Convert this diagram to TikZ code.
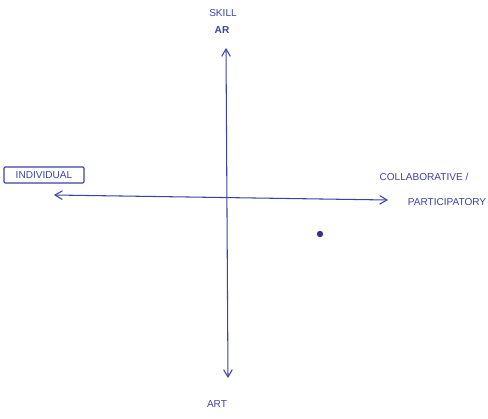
\documentclass[tikz,border=0pt]{standalone}
\usepackage{fontspec}
\setsansfont{Liberation Sans}
\usetikzlibrary{arrows.meta,positioning}
\definecolor{inkblue}{HTML}{3D42A3}
\tikzset{
  axis/.style={draw=inkblue,line width=0.9pt,
    {Straight Barb[length=2.2mm,width=2.6mm]}-{Straight Barb[length=2.2mm,width=2.6mm]}},
  tag/.style={text=inkblue,font=\sffamily\fontsize{8.6}{9}\selectfont,inner sep=1pt},
  boxtag/.style={tag,draw=inkblue,line width=0.9pt,rounded corners=1pt,
    minimum width=24mm,minimum height=4.8mm}
}

\begin{document}
\begin{tikzpicture}[x=0.3mm,y=-0.3mm]
  \useasboundingbox (0,0) rectangle (488,419);
  % axis ends
  \coordinate (top) at (226,48);
  \coordinate (bottom) at (228,378);
  \coordinate (left) at (54,195);
  \coordinate (right) at (388,200);
  \draw[axis] (bottom) -- (top);
  \draw[axis] (left) -- (right);
  % vertical labels
  \node[tag] (skill) at (223,13) {SKILL};
  \node[tag,font=\sffamily\bfseries\fontsize{8.6}{9}\selectfont] (ar) at (222,30) {AR};
  \node[tag] (art) at (217,404) {ART};
  % horizontal labels
  \node[boxtag] (individual) at (44,175) {INDIVIDUAL};
  \node[tag] (collab) at (424,177) {COLLABORATIVE /};
  \node[tag] (particip) at (447,202) {PARTICIPATORY};
  % point
  \fill[inkblue!80!black] (320,234) circle (3.2);
\end{tikzpicture}
\end{document}
